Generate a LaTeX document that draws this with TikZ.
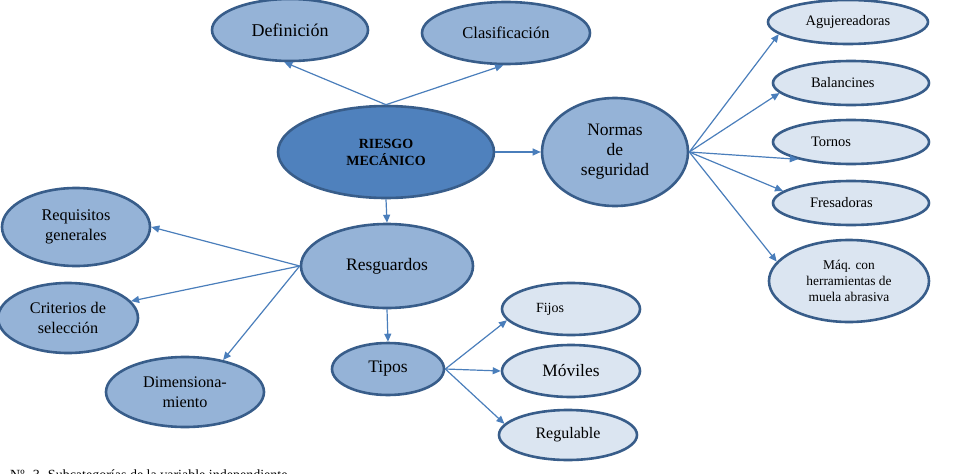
\documentclass[tikz,border=0pt]{standalone}
\usepackage{fontspec}
\setmainfont{Liberation Serif}
\usetikzlibrary{shapes.geometric,arrows.meta}
\definecolor{bord}{HTML}{385D8A}
\definecolor{dark}{HTML}{4F81BD}
\definecolor{mid}{HTML}{95B3D7}
\definecolor{light}{HTML}{DBE5F1}
\definecolor{arr}{HTML}{4A7EBB}
\tikzset{
  ell/.style={ellipse, draw=bord, line width=2.6pt, inner sep=0pt, text=black, align=center},
  midell/.style={ell, fill=mid},
  lightell/.style={ell, fill=light},
  darkell/.style={ell, fill=dark},
  conn/.style={draw=arr, line width=1.2pt, -{Triangle[length=8pt,width=7pt]}},
}
\newcommand{\fs}[2]{\fontsize{#1}{#2}\selectfont}
\begin{document}
\begin{tikzpicture}[x=1pt,y=-1pt]
\useasboundingbox (0,0) rectangle (962,474);
% top
\node[midell, minimum width=156, minimum height=62, font=\fs{18}{21}] (def) at (290,30) {Definición};
\node[midell, minimum width=168, minimum height=62, font=\fs{16.5}{20}] (cla) at (506,33) {Clasificación};
\node[darkell, minimum width=216, minimum height=92, font=\bfseries\fs{14}{17}] (riesgo) at (386,152) {RIESGO\\MECÁNICO};
\node[midell, minimum width=146, minimum height=108, font=\fs{17.5}{20}] (normas) at (615,152) {Normas\\de\\seguridad};
% right
\node[lightell, minimum width=160, minimum height=44, font=\fs{14.5}{17}] (agu) at (848,22) {Agujereadoras};
\node[lightell, minimum width=156, minimum height=44, font=\fs{14.5}{17}, text width=80, align=left] (bal) at (851,83) {Balancines};
\node[lightell, minimum width=156, minimum height=44, font=\fs{14.5}{17}, text width=80, align=left] (tor) at (851,142) {Tornos};
\node[lightell, minimum width=156, minimum height=44, font=\fs{14.5}{17}, text width=82, align=left] (fre) at (851,203) {Fresadoras};
\node[lightell, minimum width=160, minimum height=82, font=\fs{13.4}{16}] (maq) at (849,281) {Máq. con\\herramientas de\\muela abrasiva};
% left
\node[midell, minimum width=148, minimum height=78, font=\fs{16.3}{20}] (req) at (76,227) {Requisitos\\generales};
\node[midell, minimum width=140, minimum height=70, font=\fs{16.2}{20}] (crit) at (68,318) {Criterios de\\selección};
\node[midell, minimum width=158, minimum height=70, font=\fs{16.2}{20}] (dim) at (185,392) {Dimensiona-\\miento};
\node[midell, minimum width=172, minimum height=84, font=\fs{17.5}{20}] (resg) at (387,266) {Resguardos};
\node[midell, minimum width=112, minimum height=52, font=\fs{17.6}{20}] (tipos) at (388,369) {Tipos};
% tipos children
\node[lightell, minimum width=138, minimum height=52, font=\fs{14}{17}, text width=70, align=left] (fijos) at (571,309) {Fijos};
\node[lightell, minimum width=138, minimum height=52, font=\fs{17.4}{20}] (mov) at (571,371) {Móviles};
\node[lightell, minimum width=138, minimum height=50, font=\fs{16}{19}] (reg) at (568,435) {Regulable};
% caption
\node[anchor=base west, inner sep=0pt, font=\fs{14}{17}] (cap) at (10,479.5) {Nº. 3. Subcategorías de la variable independiente};
% connectors
\draw[conn] (riesgo.north) -- (def.260);
\draw[conn] (riesgo.north) -- (cla.265);
\draw[conn] (riesgo.east) -- (normas.west);
\draw[conn] (normas.east) -- (agu.190);
\draw[conn] (normas.east) -- (bal.188);
\draw[conn] (normas.east) -- (tor.198);
\draw[conn] (normas.east) -- (fre.170);
\draw[conn] (normas.east) -- (maq.165);
\draw[conn] (riesgo.south) -- (resg.north);
\draw[conn] (resg.west) -- (req.east);
\draw[conn] (resg.west) -- (crit.15);
\draw[conn] (resg.west) -- (dim.40);
\draw[conn] (resg.south) -- (tipos.north);
\draw[conn] (tipos.east) -- (fijos.190);
\draw[conn] (tipos.east) -- (mov.west);
\draw[conn] (tipos.east) -- (reg.170);
\end{tikzpicture}
\end{document}
